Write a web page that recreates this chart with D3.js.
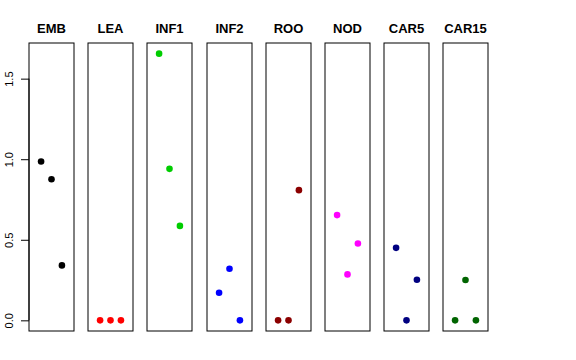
<!DOCTYPE html>
<html>
<head>
<meta charset="utf-8">
<script src="https://cdn.jsdelivr.net/npm/d3@7"></script>
<style>
body { margin: 0; background: #fff; }
text { font-family: "Liberation Sans", Arial, sans-serif; }
</style>
</head>
<body>
<div id="chart"></div>
<script>
// panel names and dot colours
var groups = ["EMB", "LEA", "INF1", "INF2", "ROO", "NOD", "CAR5", "CAR15"];
var colors = ["#000000", "#ff0000", "#00cd00", "#0000ff", "#8b0000", "#ff00ff", "#000080", "#006400"];

// three values per panel, at x = 1, 2, 3
var vals1 = [0.986, 0, 1.655, 0.171, 0, 0.653, 0.45, 0];
var vals2 = [0.876, 0, 0.940, 0.320, 0, 0.285, 0, 0.25];
var vals3 = [0.341, 0, 0.586, 0, 0.808, 0.477, 0.252, 0];

var yTicks = [0, 0.5, 1, 1.5];

var width = 576, height = 360;
var plotTop = 43, plotBottom = 331;
var panelW = 45, left0 = 29, step = 59.2;

var svg = d3.select("#chart").append("svg")
    .attr("width", width)
    .attr("height", height);

// R style 4% padding on both axes
var y = d3.scaleLinear()
    .domain([0 - 0.04 * 1.655, 1.655 + 0.04 * 1.655])
    .range([plotBottom, plotTop]);

var x = d3.scaleLinear()
    .domain([-0.16, 4.16])
    .range([0, panelW]);

var panel = svg.selectAll(".panel")
    .data(groups)
    .enter()
    .append("g")
    .attr("class", "panel")
    .attr("transform", function (d, i) {
        return "translate(" + Math.round(left0 + i * step) + ",0)";
    });

panel.append("rect")
    .attr("x", 0)
    .attr("y", plotTop)
    .attr("width", panelW)
    .attr("height", plotBottom - plotTop)
    .attr("fill", "none")
    .attr("stroke", "#000");

panel.append("text")
    .attr("x", panelW / 2)
    .attr("y", 33)
    .attr("text-anchor", "middle")
    .attr("font-size", 13)
    .attr("font-weight", "bold")
    .text(function (d) { return d; });

panel.each(function (d, i) {
    var pts = [vals1[i], vals2[i], vals3[i]];
    d3.select(this).selectAll("circle")
        .data(pts)
        .enter()
        .append("circle")
        .attr("cx", function (v, j) { return x(j + 1); })
        .attr("cy", function (v) { return y(v); })
        .attr("r", 3.3)
        .attr("fill", colors[i]);
});

// left axis
var axis = d3.axisLeft(y)
    .tickValues(yTicks)
    .tickSize(8)
    .tickFormat(d3.format(".1f"));

var ax = svg.append("g")
    .attr("transform", "translate(" + left0 + ",0)")
    .call(axis);

ax.select(".domain")
    .attr("d", "M0," + y(0) + "V" + y(1.5));

ax.selectAll("text")
    .attr("font-size", 11)
    .attr("font-family", "Liberation Sans, Arial, sans-serif")
    .attr("fill", "#000")
    .attr("transform", "rotate(-90)")
    .attr("text-anchor", "middle")
    .attr("x", 0)
    .attr("y", -16)
    .attr("dy", 0);
</script>
</body>
</html>
